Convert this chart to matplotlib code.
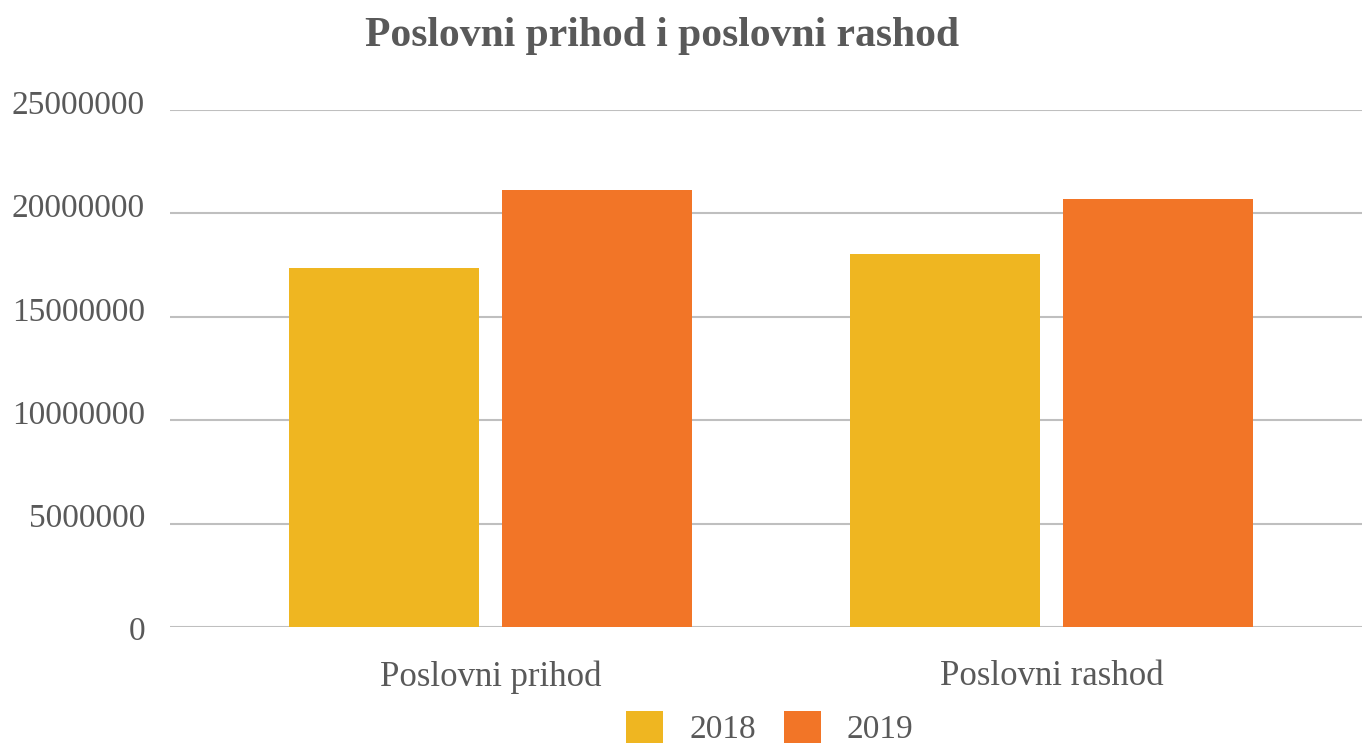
import matplotlib.pyplot as plt
import matplotlib.transforms as mtransforms
import numpy as np

categories = ['Poslovni prihod', 'Poslovni rashod']
years = ['2018', '2019']
values_2018 = [17360000, 18040000]
values_2019 = [21130000, 20700000]
colors = ['#EFB621', '#F27527']

txt = '#595959'
plt.rcParams['font.family'] = ['Liberation Serif', 'DejaVu Serif']

fig = plt.figure(figsize=(13.62, 7.45), dpi=100)
ax = fig.add_axes([170/1362, 1-627/745, 1192/1362, 517/745])

x = np.arange(len(categories))
w = 0.339
off = 0.19
ax.bar(x - off, values_2018, w, color=colors[0], label=years[0], zorder=2)
ax.bar(x + off, values_2019, w, color=colors[1], label=years[1], zorder=2)

ax.set_ylim(0, 25000000)
ax.set_xlim(-0.571, 1.553)
ax.set_yticks(np.arange(0, 25000001, 5000000))
ax.set_yticklabels([str(v) for v in range(0, 25000001, 5000000)])
ax.yaxis.grid(True, color='#BFBFBF', linewidth=1.5, zorder=0)
ax.set_xticks(x)
ax.set_xticklabels(categories)
ax.tick_params(axis='both', length=0, colors=txt)
ax.tick_params(axis='y', labelsize=24, pad=18)
ax.tick_params(axis='x', labelsize=25, pad=24)
for s in ax.spines.values():
    s.set_visible(False)
ax.set_axisbelow(True)

# labels sit a bit above their gridlines in the original (except the 0)
for i, lab in enumerate(ax.get_yticklabels()):
    dy = -1 if i == 0 else 8
    lab.set_transform(lab.get_transform() + mtransforms.ScaledTranslation(0, dy/100, fig.dpi_scale_trans))

fig.text(0.486, 0.952, 'Poslovni prihod i poslovni rashod', ha='center', va='center',
         fontsize=30, fontweight='bold', color=txt)

fig.legend(loc='center', bbox_to_anchor=(770/1362, 1-728/745), ncol=2, frameon=False,
           fontsize=24, labelcolor=txt, handlelength=1.11, handleheight=1.11,
           columnspacing=0.84, handletextpad=0.78, borderpad=0.1)

fig.savefig('out.png', dpi=100)
